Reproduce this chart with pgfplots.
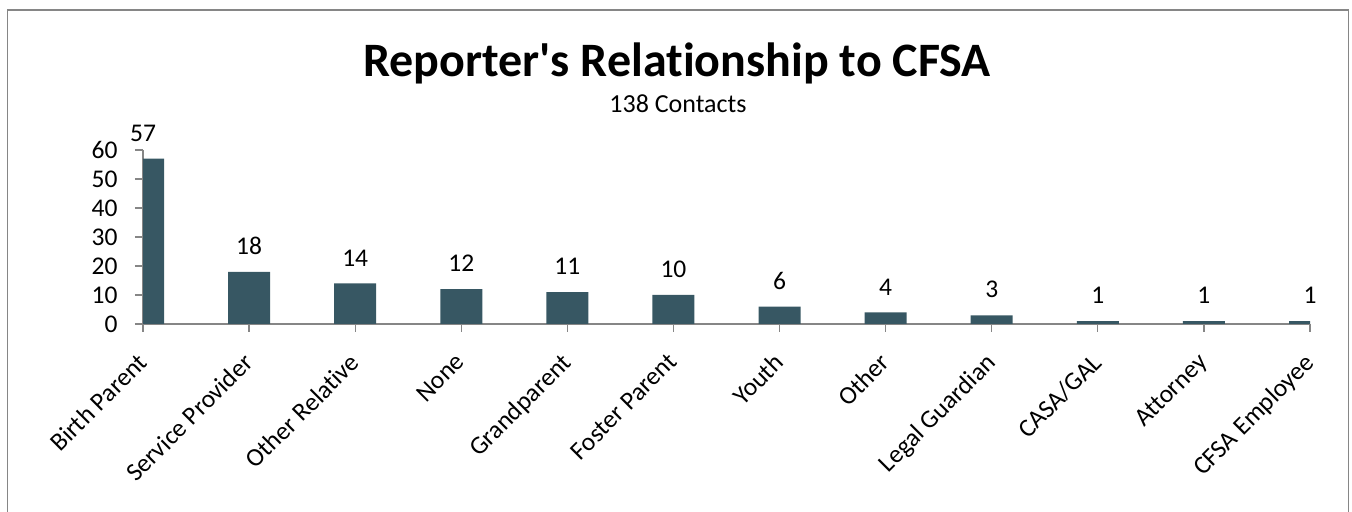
\documentclass[border=0pt]{standalone}
\usepackage{pgfplots}
\pgfplotsset{compat=1.18}
\usepackage{fontspec}
\setmainfont{Carlito}[Ligatures={TeXOff,CommonOff}]
\definecolor{barc}{RGB}{55,87,99}
\definecolor{axc}{RGB}{134,134,134}
\begin{document}
\begin{tikzpicture}
\useasboundingbox (0bp,0bp) rectangle (1352bp,512bp);
\draw[axc, line width=1.5bp] (7.5bp,-10bp) rectangle (1348.5bp,502bp);
\node[anchor=base, font=\fontsize{48bp}{52bp}\selectfont\bfseries] at (677bp,435bp) {Reporter's Relationship to CFSA};
\node[anchor=base, font=\fontsize{26bp}{30bp}\selectfont] at (678bp,399bp) {138 Contacts};
\begin{axis}[
  at={(143bp,188bp)}, anchor=south west,
  width=1167bp, height=174bp, scale only axis,
  xmin=0, xmax=11, ymin=0, ymax=60,
  axis x line=bottom, axis y line=left,
  axis line style={axc, line width=1.2bp, -},
  ytick={0,10,...,60}, xtick={0,...,11},
  xticklabels={Birth Parent,Service Provider,Other Relative,None,Grandparent,Foster Parent,Youth,Other,Legal Guardian,CASA/GAL,Attorney,CFSA Employee},
  tick style={axc, line width=1.2bp}, major tick length=8bp, tick align=outside,
  ticklabel style={font=\fontsize{25.5bp}{29bp}\selectfont, black},
  /pgf/number format/assume math mode=true,
  x tick label style={xshift=-7bp, yshift=-15bp, rotate=45, anchor=north east},
  y tick label style={xshift=-14bp},
  ybar, bar width=42bp,
  clip mode=individual,
  nodes near coords,
  every node near coord/.append style={font=\fontsize{25.5bp}{29bp}\selectfont, black, inner sep=0pt, yshift=17bp},
]
\addplot[fill=barc, draw=none] coordinates {(0,57) (1,18) (2,14) (3,12) (4,11) (5,10) (6,6) (7,4) (8,3) (9,1) (10,1) (11,1)};
\end{axis}
\end{tikzpicture}
\end{document}
